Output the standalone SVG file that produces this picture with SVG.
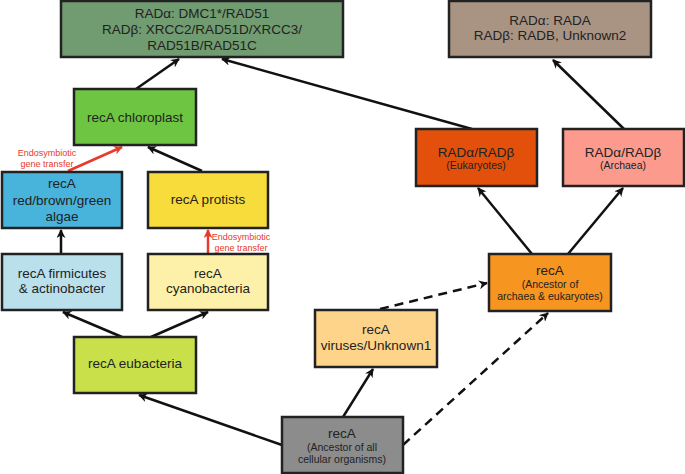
<svg xmlns="http://www.w3.org/2000/svg" width="685" height="474" viewBox="0 0 685 474">
<defs>
<marker id="ah" viewBox="0 0 10 10" refX="9" refY="5" markerWidth="9" markerHeight="9" markerUnits="userSpaceOnUse" orient="auto">
<path d="M0,0 L10,5 L0,10 L3,5 Z" fill="#111"/>
</marker>
<marker id="ahr" viewBox="0 0 10 10" refX="9" refY="5" markerWidth="9" markerHeight="9" markerUnits="userSpaceOnUse" orient="auto">
<path d="M0,0 L10,5 L0,10 L3,5 Z" fill="#e8392b"/>
</marker>
</defs>
<style>
rect{stroke:#222;stroke-width:2.5}
text{font-family:"Liberation Sans",Arial,sans-serif;fill:#222;text-anchor:middle}
.m{font-size:13.5px}
.s{font-size:10.5px}
.r{font-size:9px;fill:#e8392b}
.c{stroke:#111;stroke-width:2.5;fill:none;marker-end:url(#ah)}
.d{stroke-dasharray:9,6}
.rc{stroke:#e8392b;stroke-width:2.5;fill:none;marker-end:url(#ahr)}
</style>
<rect width="685" height="474" fill="#fff" style="stroke:none"/>
<g id="connectors">
<line class="c" x1="136" y1="89" x2="179" y2="59"/>
<line class="c" x1="472" y1="129" x2="222" y2="59"/>
<line class="c" x1="624" y1="129" x2="553" y2="60"/>
<line class="rc" x1="68" y1="171" x2="122" y2="147"/>
<line class="c" x1="202" y1="171" x2="148" y2="147"/>
<line class="c" x1="61" y1="254" x2="61" y2="230"/>
<line class="rc" x1="208" y1="254" x2="208" y2="230"/>
<line class="c" x1="122" y1="337" x2="63" y2="312"/>
<line class="c" x1="151" y1="337" x2="208" y2="312"/>
<line class="c" x1="282" y1="445" x2="139" y2="395"/>
<line class="c" x1="343" y1="417" x2="373" y2="369"/>
<line class="c d" x1="403" y1="445" x2="548" y2="313"/>
<line class="c d" x1="380" y1="309" x2="487" y2="283"/>
<line class="c" x1="532" y1="254" x2="478" y2="188"/>
<line class="c" x1="568" y1="254" x2="623" y2="188"/>
<text class="r" x="47" y="156">Endosymbiotic</text>
<text class="r" x="47" y="167">gene transfer</text>
<text class="r" x="241" y="240">Endosymbiotic</text>
<text class="r" x="241" y="251">gene transfer</text>
</g>
<g id="n_top_left">
<rect x="61" y="1" width="282" height="56" fill="#719b70"/>
<text class="m" x="202" y="18">RADα: DMC1*/RAD51</text>
<text class="m" x="202" y="34">RADβ: XRCC2/RAD51D/XRCC3/</text>
<text class="m" x="202" y="50">RAD51B/RAD51C</text>
</g>
<g id="n_top_right">
<rect x="449" y="1" width="202" height="56" fill="#a99484"/>
<text class="m" x="550" y="25">RADα: RADA</text>
<text class="m" x="550" y="40">RADβ: RADB, Unknown2</text>
</g>
<g id="n_chloroplast">
<rect x="74" y="89" width="122" height="56" fill="#6dc542"/>
<text class="m" x="135" y="122">recA chloroplast</text>
</g>
<g id="n_algae">
<rect x="2" y="172" width="120" height="56" fill="#48b3db"/>
<text class="m" x="62" y="188">recA</text>
<text class="m" x="62" y="205">red/brown/green</text>
<text class="m" x="62" y="221">algae</text>
</g>
<g id="n_protists">
<rect x="148" y="172" width="120" height="56" fill="#f8dc3c"/>
<text class="m" x="208" y="204">recA protists</text>
</g>
<g id="n_firmicutes">
<rect x="2" y="254" width="120" height="56" fill="#bae0ec"/>
<text class="m" x="62" y="278">recA firmicutes</text>
<text class="m" x="62" y="293">&amp; actinobacter</text>
</g>
<g id="n_cyano">
<rect x="148" y="254" width="120" height="56" fill="#fdf1a9"/>
<text class="m" x="208" y="278">recA</text>
<text class="m" x="208" y="293">cyanobacteria</text>
</g>
<g id="n_eubacteria">
<rect x="74" y="337" width="122" height="56" fill="#c9e04a"/>
<text class="m" x="135" y="368">recA eubacteria</text>
</g>
<g id="n_viruses">
<rect x="315" y="310" width="122" height="57" fill="#fed38a"/>
<text class="m" x="376" y="334">recA</text>
<text class="m" x="376" y="350">viruses/Unknown1</text>
</g>
<g id="n_ancestor_all">
<rect x="282" y="417" width="121" height="56" fill="#8c8c8c"/>
<text class="m" x="342" y="438">recA</text>
<text class="s" x="342" y="451">(Ancestor of all</text>
<text class="s" x="342" y="463">cellular organisms)</text>
</g>
<g id="n_ancestor_ae">
<rect x="489" y="254" width="122" height="57" fill="#f6951f"/>
<text class="m" x="550" y="275">recA</text>
<text class="s" x="550" y="288">(Ancestor of</text>
<text class="s" x="550" y="300">archaea &amp; eukaryotes)</text>
</g>
<g id="n_eukaryotes">
<rect x="416" y="129" width="121" height="57" fill="#e2500b"/>
<text class="m" x="476" y="157">RADα/RADβ</text>
<text class="s" x="476" y="169">(Eukaryotes)</text>
</g>
<g id="n_archaea">
<rect x="563" y="129" width="121" height="57" fill="#fc9b8d"/>
<text class="m" x="623" y="157">RADα/RADβ</text>
<text class="s" x="623" y="169">(Archaea)</text>
</g>
</svg>
